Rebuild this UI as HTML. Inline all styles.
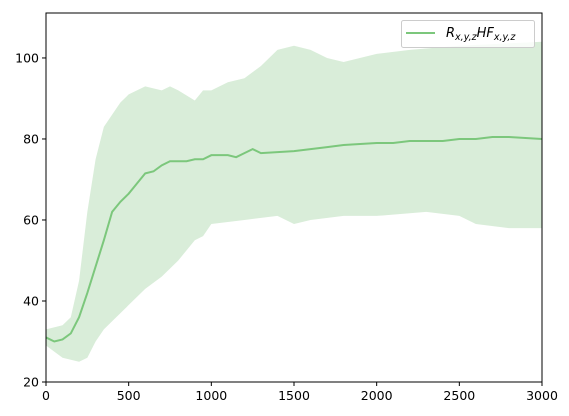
<!DOCTYPE html>
<html><head><meta charset="utf-8"><style>
body{margin:0;background:#fff}
svg{display:block;font-family:"DejaVu Sans","Liberation Sans",sans-serif}
</style></head><body>
<svg id="chart" width="569" height="416" viewBox="0 0 569 416">
<rect width="569" height="416" fill="#fff"/>
<g id="plot"></g>
</svg>
<script>
const meanX=[0,50,100,150,200,250,300,350,400,450,500,550,600,650,700,750,800,850,900,950,1000,1100,1150,1200,1250,1300,1500,1700,1800,2000,2100,2200,2400,2500,2600,2700,2800,3000];
const meanY=[31,30,30.5,32,36,42,48.5,55,62,64.5,66.5,69,71.5,72,73.5,74.5,74.5,74.5,75,75,76,76,75.5,76.5,77.5,76.5,77,78,78.5,79,79,79.5,79.5,80,80,80.5,80.5,80];
const upperX=[0,100,150,200,250,300,350,400,450,500,600,700,750,800,900,950,1000,1100,1200,1300,1400,1500,1600,1700,1800,2000,2200,2500,3000];
const upperY=[33,34,36,45,62,75,83,86,89,91,93,92,93,92,89.5,92,92,94,95,98,102,103,102,100,99,101,102,103,104];
const lowerX=[0,100,200,250,300,350,400,500,600,700,800,900,950,1000,1200,1400,1500,1600,1800,2000,2300,2500,2600,2800,3000];
const lowerY=[29,26,25,26,30,33,35,39,43,46,50,55,56,59,60,61,59,60,61,61,62,61,59,58,58];
const xTicks=[0,500,1000,1500,2000,2500,3000];
const yTicks=[20,40,60,80,100];
const L=46,R=542,T=13,B=382,XMAX=3000,YMIN=20,YMAX=111.1;
const sx=v=>L+(v/XMAX)*(R-L);
const sy=v=>B-(v-YMIN)/(YMAX-YMIN)*(B-T);
const NS="http://www.w3.org/2000/svg";
const g=document.getElementById('plot');
function mk(t,a){const e=document.createElementNS(NS,t);for(const k in a)e.setAttribute(k,a[k]);g.appendChild(e);return e;}
let d="M"+upperX.map((x,i)=>sx(x)+","+sy(upperY[i])).join("L");
for(let i=lowerX.length-1;i>=0;i--)d+="L"+sx(lowerX[i])+","+sy(lowerY[i]);
const band=mk('path',{d:d+"Z",fill:"#d9edd9",stroke:"none"});


const line=mk('path',{d:"M"+meanX.map((x,i)=>sx(x)+","+sy(meanY[i])).join("L"),fill:"none",stroke:"#7cc77c","stroke-width":2});


const fr=mk('rect',{x:L,y:T,width:R-L,height:B-T,fill:"none",stroke:"#000","stroke-width":1});


xTicks.forEach(v=>{
 const t=mk('line',{x1:sx(v),x2:sx(v),y1:B,y2:B+4,stroke:"#000"});
 
 
 const l=mk('text',{x:sx(v),y:B+18,"text-anchor":"middle","font-size":12.5,fill:"#000"});l.textContent=v;
 
 
});
yTicks.forEach(v=>{
 const t=mk('line',{x1:L-4,x2:L,y1:sy(v),y2:sy(v),stroke:"#000"});
 
 
 const l=mk('text',{x:L-7,y:sy(v)+4.5,"text-anchor":"end","font-size":12.5,fill:"#000"});l.textContent=v;
 
 
});
const lg=mk('rect',{x:401.5,y:20.5,width:133,height:27,rx:2,fill:"#fff","fill-opacity":0.8,stroke:"#ccc"});


const ll=mk('line',{x1:406,x2:435,y1:33,y2:33,stroke:"#7cc77c","stroke-width":2});


const lt=mk('text',{x:446,y:37,"font-size":13,"font-style":"italic",fill:"#000"});
lt.innerHTML='R<tspan font-size="9.5" dy="3">x,y,z</tspan><tspan dy="-3">HF</tspan><tspan font-size="9.5" dy="3">x,y,z</tspan>';


</script>
</body></html>
